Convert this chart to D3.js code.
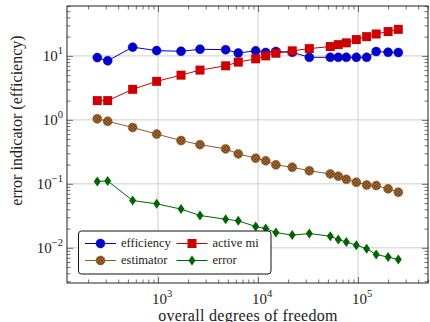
<!DOCTYPE html>
<html>
<head>
<meta charset="utf-8">
<script src="https://cdn.jsdelivr.net/npm/d3@7"></script>
<style>
  body { margin: 0; background: #fff; }
  svg text { font-family: "Liberation Serif", "DejaVu Serif", serif; fill: #222; }
</style>
</head>
<body>
<svg id="chart" width="430" height="322"></svg>
<script>
const dof = [247, 314, 558, 970, 1700, 2630, 4750, 6350, 9480, 11940, 15100,
  22000, 32600, 52800, 63500, 76400, 96200, 122000, 152000, 200000, 253000];
const efficiency = [9.4, 8.4, 13.7, 12.1, 11.8, 12.7, 12.5, 11.1, 12.0, 11.3, 11.7,
  11.4, 9.5, 9.5, 9.5, 9.5, 9.5, 9.5, 11.7, 11.4, 11.3];
const activeMi = [2, 2, 3, 4, 5, 6, 7, 8, 9, 10, 11, 12, 13, 14, 15, 16, 18, 20, 22, 24, 26];
const estimator = [1.04, 0.95, 0.76, 0.60, 0.475, 0.41, 0.352, 0.294, 0.252, 0.229, 0.198,
  0.182, 0.16, 0.143, 0.132, 0.118, 0.106, 0.096, 0.094, 0.0835, 0.074];
const errorVals = [0.109, 0.111, 0.0548, 0.0487, 0.0403, 0.032, 0.028, 0.0264, 0.0215, 0.020, 0.0173,
  0.0158, 0.0167, 0.0152, 0.0135, 0.0123, 0.011, 0.0097, 0.00786, 0.00716, 0.00656];
const xMajor = [1e3, 1e4, 1e5];
const yMajor = [1e-2, 1e-1, 1e0, 1e1];

const plotL = 67, plotR = 428, plotT = 6, plotB = 283;
const serif = "Liberation Serif, DejaVu Serif, serif";
const svg = d3.select("#chart").attr("font-family", serif);

const x = d3.scaleLog().domain([Math.pow(10, 2.09), Math.pow(10, 5.70)]).range([plotL, plotR]);
const y = d3.scaleLog().domain([Math.pow(10, -2.55), Math.pow(10, 1.78)]).range([plotB, plotT]);

function minors(scale) {
  const [a, b] = scale.domain();
  const out = [];
  for (let e = Math.floor(Math.log10(a)); e <= Math.ceil(Math.log10(b)); e++) {
    for (let m = 2; m <= 9; m++) {
      const v = m * Math.pow(10, e);
      if (v > a && v < b) out.push(v);
    }
  }
  return out;
}

// grid
svg.append("g").selectAll("line").data(xMajor).join("line")
  .attr("x1", (d) => x(d)).attr("x2", (d) => x(d))
  .attr("y1", plotT).attr("y2", plotB)
  .attr("stroke", "#c8c8c8").attr("stroke-width", 0.9);
svg.append("g").selectAll("line").data(yMajor).join("line")
  .attr("y1", (d) => y(d)).attr("y2", (d) => y(d))
  .attr("x1", plotL).attr("x2", plotR)
  .attr("stroke", "#c8c8c8").attr("stroke-width", 0.9);

// ticks inside on all four sides
function tickGroup(axis, tx, ty) {
  const g = svg.append("g").attr("transform", `translate(${tx},${ty})`).call(axis);
  g.select(".domain").remove();
  g.selectAll("line").attr("stroke", "#333").attr("stroke-width", 0.7);
  return g;
}
const noLabel = () => "";
tickGroup(d3.axisBottom(x).tickValues(minors(x)).tickSize(-3.5).tickFormat(noLabel), 0, plotB);
tickGroup(d3.axisBottom(x).tickValues(xMajor).tickSize(-6).tickFormat(noLabel), 0, plotB);
tickGroup(d3.axisTop(x).tickValues(minors(x)).tickSize(-3.5).tickFormat(noLabel), 0, plotT);
tickGroup(d3.axisTop(x).tickValues(xMajor).tickSize(-6).tickFormat(noLabel), 0, plotT);
tickGroup(d3.axisLeft(y).tickValues(minors(y)).tickSize(-3.5).tickFormat(noLabel), plotL, 0);
tickGroup(d3.axisLeft(y).tickValues(yMajor).tickSize(-6).tickFormat(noLabel), plotL, 0);
tickGroup(d3.axisRight(y).tickValues(minors(y)).tickSize(-3.5).tickFormat(noLabel), plotR, 0);
tickGroup(d3.axisRight(y).tickValues(yMajor).tickSize(-6).tickFormat(noLabel), plotR, 0);

// tick labels with superscripts
function powLabel(sel, d) {
  const e = Math.round(Math.log10(d));
  sel.append("tspan").text("10");
  sel.append("tspan").attr("dy", -7).attr("font-size", 10.5)
    .text(e < 0 ? "\u2212" + (-e) : String(e));
}
svg.append("g").selectAll("text").data(xMajor).join("text")
  .attr("x", (d) => x(d) + 4).attr("y", 304)
  .attr("text-anchor", "middle").attr("font-size", 15)
  .each(function (d) { powLabel(d3.select(this), d); });
svg.append("g").selectAll("text").data(yMajor).join("text")
  .attr("x", 63).attr("y", (d) => y(d) + 5)
  .attr("text-anchor", "end").attr("font-size", 15)
  .each(function (d) { powLabel(d3.select(this), d); });

// axis labels
svg.append("text").attr("x", 248).attr("y", 320.5)
  .attr("text-anchor", "middle").attr("font-size", 16).attr("letter-spacing", 0.3)
  .text("overall degrees of freedom");
svg.append("text")
  .attr("transform", `translate(22,${(plotT + plotB) / 2 - 24}) rotate(-90)`)
  .attr("text-anchor", "middle").attr("font-size", 16)
  .text("error indicator (efficiency)");

// hatch pattern for estimator markers
const defs = svg.append("defs");
const pat = defs.append("pattern").attr("id", "hatch")
  .attr("patternUnits", "userSpaceOnUse").attr("width", 3).attr("height", 3);
pat.append("rect").attr("width", 3).attr("height", 3).attr("fill", "#a66a30");
pat.append("path").attr("d", "M0,0L3,3M3,0L0,3")
  .attr("stroke", "#5a3510").attr("stroke-width", 0.6);

const series = [
  { name: "efficiency", values: efficiency, color: "#0000c8", marker: "circle", fill: "#0000c8" },
  { name: "active mi", values: activeMi, color: "#cc0000", marker: "square", fill: "#cc0000" },
  { name: "estimator", values: estimator, color: "#8a5a2b", marker: "hcircle", fill: "url(#hatch)" },
  { name: "error", values: errorVals, color: "#006400", marker: "diamond", fill: "#006400" },
];

function drawMarker(g, s, cx, cy) {
  if (s.marker === "circle" || s.marker === "hcircle") {
    g.append("circle").attr("cx", cx).attr("cy", cy).attr("r", 4.5)
      .attr("fill", s.fill)
      .attr("stroke", s.marker === "hcircle" ? "#7a4f25" : s.color)
      .attr("stroke-width", 0.5);
  } else if (s.marker === "square") {
    g.append("rect").attr("x", cx - 4.5).attr("y", cy - 4.5)
      .attr("width", 9).attr("height", 9).attr("fill", s.fill);
  } else {
    g.append("path")
      .attr("d", `M${cx},${cy - 5}L${cx + 3.5},${cy}L${cx},${cy + 5}L${cx - 3.5},${cy}Z`)
      .attr("fill", s.fill);
  }
}

const line = d3.line().x((d) => x(d[0])).y((d) => y(d[1]));
series.forEach((s) => {
  const pts = dof.map((d, i) => [d, s.values[i]]);
  const g = svg.append("g");
  g.append("path").datum(pts).attr("d", line)
    .attr("fill", "none").attr("stroke", s.color).attr("stroke-width", 1);
  pts.forEach((p) => drawMarker(g, s, x(p[0]), y(p[1])));
});

// frame
svg.append("rect").attr("x", plotL).attr("y", plotT)
  .attr("width", plotR - plotL).attr("height", plotB - plotT)
  .attr("fill", "none").attr("stroke", "#222").attr("stroke-width", 1);

// legend
const lg = svg.append("g");
lg.append("rect").attr("x", 78.5).attr("y", 231).attr("width", 192.5).attr("height", 43)
  .attr("rx", 3).attr("fill", "#fff").attr("stroke", "#111").attr("stroke-width", 1);
const legendPos = [[85, 243.5], [176.5, 243.5], [85, 260.5], [176.5, 260.5]];
series.forEach((s, i) => {
  const [lx, ly] = legendPos[i];
  lg.append("line").attr("x1", lx).attr("x2", lx + 31).attr("y1", ly).attr("y2", ly)
    .attr("stroke", s.color).attr("stroke-width", 1);
  drawMarker(lg, s, lx + 15.5, ly);
  lg.append("text").attr("x", lx + 36).attr("y", ly + 3.5)
    .attr("font-size", 12.5).text(s.name);
});
</script>
</body>
</html>
